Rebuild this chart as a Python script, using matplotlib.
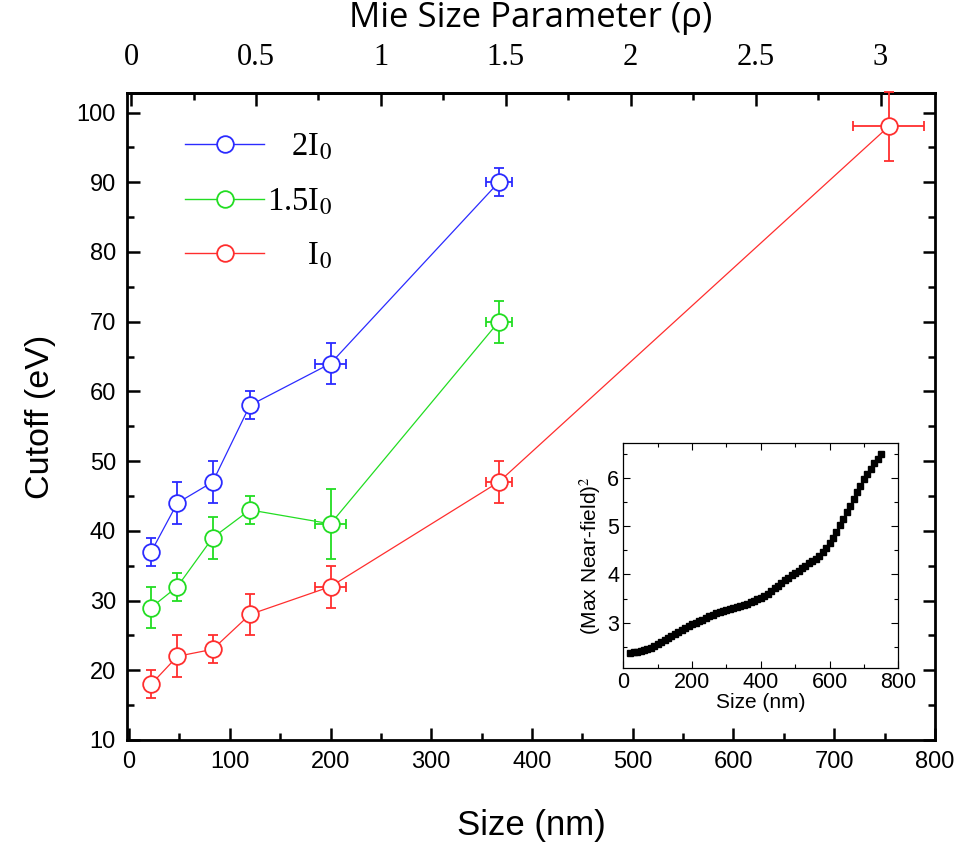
import matplotlib
matplotlib.use("Agg")
import matplotlib.pyplot as plt
from matplotlib.ticker import MultipleLocator, FixedLocator, FixedFormatter
from matplotlib.lines import Line2D

# ---------------- data ----------------
size_nm = [22, 48, 83, 120, 200, 367]
size_nm_red = [22, 48, 83, 120, 200, 367, 754]
size_err = [5, 5, 5, 5, 15, 13]
size_err_red = [5, 5, 5, 5, 15, 13, 35]

cut_2I0 = [37, 44, 47, 58, 64, 90]
err_2I0 = [2, 3, 3, 2, 3, 2]
cut_15I0 = [29, 32, 39, 43, 41, 70]
err_15I0 = [3, 2, 3, 2, 5, 3]
cut_I0 = [18, 22, 23, 28, 32, 47, 98]
err_I0 = [2, 3, 2, 3, 3, 3, 5]

labels = ["   2I$_0$", "1.5I$_0$", "     I$_0$"]
colors = ["#2b2bff", "#22dd22", "#ff2e2e"]

mie_ticks = [0, 0.5, 1, 1.5, 2, 2.5, 3]
mie_tick_labels = ["0", "0.5", "1", "1.5", "2", "2.5", "3"]

inset_size = list(range(20, 760, 10))
inset_field = [2.37, 2.38, 2.39, 2.40, 2.42, 2.45, 2.48, 2.52, 2.55, 2.59,
               2.63, 2.67, 2.71, 2.76, 2.80, 2.84, 2.88, 2.92, 2.96, 2.99,
               3.03, 3.06, 3.10, 3.13, 3.16, 3.19, 3.22, 3.24, 3.26, 3.28,
               3.30, 3.32, 3.34, 3.36, 3.39, 3.42, 3.45, 3.49, 3.52, 3.56,
               3.60, 3.66, 3.72, 3.77, 3.83, 3.88, 3.93, 3.98, 4.03, 4.08,
               4.13, 4.18, 4.23, 4.28, 4.33, 4.39, 4.47, 4.55, 4.65, 4.76,
               4.89, 5.02, 5.15, 5.29, 5.43, 5.57, 5.71, 5.85, 5.98, 6.09,
               6.20, 6.31, 6.41, 6.50]

# ---------------- figure ----------------
plt.rcParams["mathtext.fontset"] = "stix"
fig = plt.figure(figsize=(9.63, 8.52), dpi=100)
ax = fig.add_axes([0.1319, 0.1315, 0.839, 0.7593])

series = [(size_nm, size_err, cut_2I0, err_2I0),
          (size_nm, size_err, cut_15I0, err_15I0),
          (size_nm_red, size_err_red, cut_I0, err_I0)]
for (xs, xe, ys, ye), c in zip(series, colors):
    cont = ax.errorbar(xs, ys, yerr=ye, xerr=xe, color=c, lw=0.9, elinewidth=1.3,
                       capsize=3.8, capthick=1.3, marker="o", ms=12, mfc="white",
                       mec=c, mew=1.3, zorder=3)
    for art in cont.get_children():
        art.set_clip_on(False)

ax.set_xlim(-2, 800)
ax.set_ylim(10, 102.8)
ax.xaxis.set_major_locator(MultipleLocator(100))
ax.xaxis.set_minor_locator(MultipleLocator(50))
ax.yaxis.set_major_locator(MultipleLocator(10))
ax.yaxis.set_minor_locator(MultipleLocator(5))
ax.tick_params(which="both", direction="in", top=False, right=True, width=1.8)
ax.tick_params(which="major", length=9, labelsize=17, pad=8)
ax.tick_params(which="minor", length=5)
for sp in ax.spines.values():
    sp.set_linewidth(2.0)
for t in ax.get_xticklabels() + ax.get_yticklabels():
    t.set_fontfamily("Liberation Sans")
ax.set_xlabel("Size (nm)", fontsize=25, family="Liberation Sans", labelpad=26)
ax.set_ylabel("Cutoff (eV)", fontsize=24.5, family="Liberation Sans", labelpad=15)

# top axis: Mie size parameter
def nm2rho(x):
    return (x - 2.0) / 248.0

def rho2nm(r):
    return r * 248.0 + 2.0

sec = ax.secondary_xaxis("top", functions=(nm2rho, rho2nm))
sec.xaxis.set_major_locator(FixedLocator(mie_ticks))
sec.xaxis.set_major_formatter(FixedFormatter(mie_tick_labels))
sec.xaxis.set_minor_locator(MultipleLocator(0.25))
sec.tick_params(which="both", direction="in", width=1.8)
sec.tick_params(which="major", length=9, labelsize=22, pad=15)
sec.tick_params(which="minor", length=5)
for t in sec.get_xticklabels():
    t.set_fontfamily("Liberation Serif")
sec.spines["top"].set_linewidth(2.0)
sec.set_xlabel("Mie Size Parameter (ρ)", fontsize=25, family="Open Sans", labelpad=12)

# legend
handles = [Line2D([], [], color=c, lw=1.0, marker="o", ms=12, mfc="white",
                  mec=c, mew=1.3) for c in colors]
leg = ax.legend(handles, labels, loc="upper left", bbox_to_anchor=(0.036, 0.985),
                frameon=False, handlelength=2.4, labelspacing=0.74,
                handletextpad=0.1,
                prop={"family": "Liberation Serif", "size": 23.5})

# inset
axi = fig.add_axes([0.6473, 0.2163, 0.2855, 0.2634])
axi.plot(inset_size, inset_field, ls="none", marker="s", ms=3.8, color="black")
axi.set_xlim(0, 800)
axi.set_ylim(2.06, 6.73)
axi.xaxis.set_major_locator(MultipleLocator(200))
axi.xaxis.set_minor_locator(MultipleLocator(100))
axi.yaxis.set_major_locator(MultipleLocator(1))
axi.yaxis.set_minor_locator(MultipleLocator(0.5))
axi.tick_params(which="both", direction="in", top=True, right=True, width=0.8)
axi.tick_params(which="major", length=5, labelsize=15.5, pad=3)
axi.tick_params(which="minor", length=3)
for t in axi.get_xticklabels() + axi.get_yticklabels():
    t.set_fontfamily("Liberation Sans")
for sp in axi.spines.values():
    sp.set_linewidth(0.9)
axi.set_xlabel("Size (nm)", fontsize=15, family="Liberation Sans", labelpad=0)
axi.set_ylabel("(Max Near-field)$^2$", fontsize=15, family="Liberation Sans", labelpad=3)

fig.savefig("out.png", dpi=100)
